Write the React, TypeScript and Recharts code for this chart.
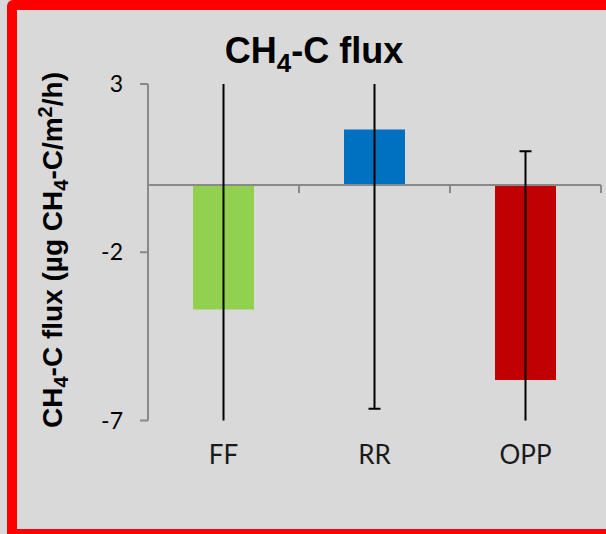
import React from 'react';
import { BarChart, Bar, XAxis, YAxis, ErrorBar, ReferenceLine, Cell } from 'recharts';

// CH4-C flux per land-use class, with standard error
const categories = ['FF', 'RR', 'OPP'];
const fluxMeans = [-3.7, 1.65, -5.8];
const fluxErrors = [7.3, 8.3, 6.8];
const barColors = ['#92d050', '#0070c0', '#c00000'];
const yTicks = [3, -2, -7];

const data = categories.map((name, i) => ({ name, flux: fluxMeans[i], err: fluxErrors[i] }));

const WIDTH = 606;
const HEIGHT = 534;
const MARGIN = { top: 84, right: 5, bottom: 53.5, left: 0 };
const Y_AXIS_W = 148;
const X_AXIS_H = 60;

const AXIS_GREY = '#898989';
const TICK_FONT = 'Lato, "Open Sans", sans-serif';
const BOLD_FONT = '"Liberation Sans", Arial, sans-serif';

// Excel-style horizontal axis crossing at zero, with small ticks between categories
const ZeroAxis = (props: any) => {
  const { x1, y1, x2 } = props;
  const step = (x2 - x1) / categories.length;
  return (
    <g>
      <line x1={x1} y1={y1} x2={x2} y2={y1} stroke={AXIS_GREY} strokeWidth={2} />
      {Array.from({ length: categories.length + 1 }, (_, i) => (
        <line key={i} x1={x1 + i * step} y1={y1} x2={x1 + i * step} y2={y1 + 8} stroke={AXIS_GREY} strokeWidth={2} />
      ))}
    </g>
  );
};

const CategoryTick = (props: any) => {
  const { x, y, payload } = props;
  return (
    <text x={x} y={y + 43} textAnchor="middle" fontFamily={TICK_FONT} fontSize={26} fill="#1a1a1a">
      {payload.value}
    </text>
  );
};

export default function App() {
  // error bars run past the axis range, so keep them inside the plot area
  const plotX = MARGIN.left + Y_AXIS_W;
  const plotW = WIDTH - plotX - MARGIN.right;
  const plotH = HEIGHT - MARGIN.top - MARGIN.bottom - X_AXIS_H;

  return (
    <div style={{ position: 'fixed', left: 0, top: 0, width: WIDTH, height: HEIGHT, background: '#d9d9d9', overflow: 'hidden' }}>
      <style>{'.recharts-errorBar { clip-path: url(#plot-area-clip); }'}</style>
      <div
        style={{
          position: 'absolute',
          left: 7,
          top: 0,
          width: 640,
          height: 539,
          border: '10px solid #ff0000',
          borderRadius: 6,
          boxSizing: 'border-box',
        }}
      />
      <div style={{ position: 'absolute', left: 0, top: 0 }}>
        <BarChart width={WIDTH} height={HEIGHT} data={data} margin={MARGIN}>
          <XAxis dataKey="name" axisLine={false} tickLine={false} tickSize={0} tickMargin={0} height={X_AXIS_H} tick={<CategoryTick />} interval={0} />
          <YAxis
            type="number"
            domain={[-7, 3]}
            ticks={yTicks}
            allowDataOverflow
            width={Y_AXIS_W}
            tickSize={8}
            tickMargin={17}
            axisLine={{ stroke: AXIS_GREY, strokeWidth: 2 }}
            tickLine={{ stroke: AXIS_GREY, strokeWidth: 2 }}
            tick={{ fontFamily: TICK_FONT, fontSize: 23, fill: '#000' }}
          />
          <ReferenceLine y={0} shape={<ZeroAxis />} />
          <Bar dataKey="flux" barSize={61} isAnimationActive={false}>
            {data.map((d, i) => (
              <Cell key={d.name} fill={barColors[i]} />
            ))}
            <ErrorBar dataKey="err" direction="y" width={6} stroke="#000" strokeWidth={2} isAnimationActive={false} />
          </Bar>
        </BarChart>
      </div>
      <svg width={WIDTH} height={HEIGHT} style={{ position: 'absolute', left: 0, top: 0, pointerEvents: 'none' }}>
        <defs>
          <clipPath id="plot-area-clip" clipPathUnits="userSpaceOnUse">
            <rect x={plotX} y={MARGIN.top} width={plotW} height={plotH} />
          </clipPath>
        </defs>
        <text x={314} y={63} textAnchor="middle" fontFamily={BOLD_FONT} fontWeight="bold" fontSize={36} fill="#000">
          CH<tspan fontSize={26} dy={9}>4</tspan>
          <tspan dy={-9}>-C flux</tspan>
        </text>
        <text transform="translate(62,250) rotate(-90)" textAnchor="middle" fontFamily={BOLD_FONT} fontWeight="bold" fontSize={28} fill="#000">
          CH<tspan fontSize={20} dy={6}>4</tspan>
          <tspan dy={-6}>-C flux (µg CH</tspan>
          <tspan fontSize={20} dy={6}>4</tspan>
          <tspan dy={-6}>-C/m</tspan>
          <tspan fontSize={20} dy={-10}>2</tspan>
          <tspan dy={10}>/h)</tspan>
        </text>
      </svg>
    </div>
  );
}
